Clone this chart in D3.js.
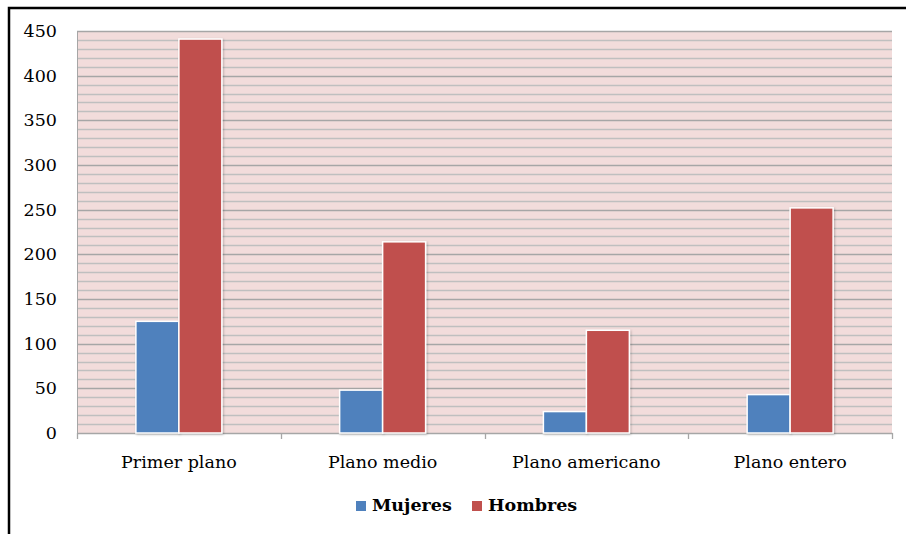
<!DOCTYPE html>
<html><head><meta charset="utf-8">
<script src="https://cdn.jsdelivr.net/npm/d3@7"></script>
<style>
html,body{margin:0;padding:0;background:#fff;}
svg{display:block;}
</style></head>
<body>
<svg id="chart" width="906" height="534"></svg>
<script>
const categories = ["Primer plano", "Plano medio", "Plano americano", "Plano entero"];
const seriesNames = ["Mujeres", "Hombres"];
const mujeres = [125, 48, 24, 43];
const hombres = [441, 214, 115, 252];
const colors = ["#4F81BD", "#C0504D"];
const yTicks = [0, 50, 100, 150, 200, 250, 300, 350, 400, 450];

const svg = d3.select("#chart");
const fontFam = "'DejaVu Serif', 'Liberation Serif', serif";
const m = {left: 77, right: 892, top: 31, bottom: 433};

// frame
svg.append("rect").attr("x", 9).attr("y", 8).attr("width", 906).attr("height", 600)
  .attr("fill", "none").attr("stroke", "#000").attr("stroke-width", 2.5);

const x = d3.scaleBand().domain(categories).range([m.left, m.right]).paddingInner(0).paddingOuter(0);
const x1 = d3.scaleBand().domain(seriesNames).range([0, x.bandwidth()]).paddingInner(0).paddingOuter(1.37);
const y = d3.scaleLinear().domain([0, 450]).range([m.bottom, m.top]);

// plot bg
svg.append("rect").attr("x", m.left).attr("y", m.top).attr("width", m.right - m.left).attr("height", m.bottom - m.top)
  .attr("fill", "#F2DCDB");

// minor grid
const minor = d3.range(10, 450, 10).filter(v => v % 50 !== 0);
svg.append("g").selectAll("line").data(minor).join("line")
  .attr("x1", m.left).attr("x2", m.right)
  .attr("y1", d => Math.round(y(d)) + 0.5).attr("y2", d => Math.round(y(d)) + 0.5)
  .attr("stroke", "#BFBFBF").attr("stroke-width", 1.3);
// major grid
svg.append("g").selectAll("line").data(yTicks.filter(v => v > 0)).join("line")
  .attr("x1", m.left).attr("x2", m.right)
  .attr("y1", d => Math.round(y(d)) + 0.5).attr("y2", d => Math.round(y(d)) + 0.5)
  .attr("stroke", "#A6A6A6").attr("stroke-width", 1.6);

// y axis
const yAxis = svg.append("g").attr("transform", `translate(${m.left},0)`)
  .call(d3.axisLeft(y).tickValues(yTicks).tickSize(0).tickPadding(20));
yAxis.select(".domain").attr("stroke", "#A6A6A6");
yAxis.selectAll("text").attr("font-family", fontFam).attr("font-size", 17.5).attr("fill", "#000");

// x axis
const xAxis = svg.append("g").attr("transform", `translate(0,${m.bottom})`)
  .call(d3.axisBottom(x).tickSize(0).tickPadding(23));
xAxis.select(".domain").attr("stroke", "#A6A6A6").attr("stroke-width", 1.3);
xAxis.selectAll("text").attr("font-family", fontFam).attr("font-size", 17.5).attr("fill", "#000");
// category boundary ticks
const bounds = categories.map(c => x(c)).concat([m.right]);
svg.append("g").selectAll("line").data(bounds).join("line")
  .attr("x1", d => Math.round(d) + 0.5).attr("x2", d => Math.round(d) + 0.5)
  .attr("y1", m.bottom).attr("y2", m.bottom + 6)
  .attr("stroke", "#A6A6A6").attr("stroke-width", 1.3);

// shadow filter
const defs = svg.append("defs");
const f = defs.append("filter").attr("id", "sh").attr("x", "-20%").attr("y", "-20%").attr("width", "140%").attr("height", "140%");
f.append("feDropShadow").attr("dx", 1).attr("dy", 1).attr("stdDeviation", 1.2).attr("flood-color", "#000").attr("flood-opacity", 0.25);

// bars
const data = categories.map((c, i) => ({cat: c, vals: [mujeres[i], hombres[i]]}));
const groups = svg.append("g").selectAll("g").data(data).join("g")
  .attr("transform", d => `translate(${x(d.cat)},0)`);
groups.selectAll("rect").data(d => d.vals.map((v, j) => ({s: seriesNames[j], v, j}))).join("rect")
  .attr("x", d => x1(d.s))
  .attr("y", d => y(d.v))
  .attr("width", x1.bandwidth())
  .attr("height", d => y(0) - y(d.v))
  .attr("fill", d => colors[d.j])
  .attr("stroke", "#fff").attr("stroke-width", 1.5)
  .attr("filter", "url(#sh)");

// legend
const leg = svg.append("g").attr("transform", "translate(356,511)");
const legX = [0, 116];
seriesNames.forEach((s, i) => {
  const g = leg.append("g").attr("transform", `translate(${legX[i]},0)`);
  g.append("rect").attr("x", 0).attr("y", -10).attr("width", 10).attr("height", 10).attr("fill", colors[i]);
  g.append("text").attr("x", 16).attr("y", 0).text(s)
    .attr("font-family", fontFam).attr("font-size", 17.5).attr("font-weight", "bold").attr("fill", "#000");
});
</script>
</body></html>
